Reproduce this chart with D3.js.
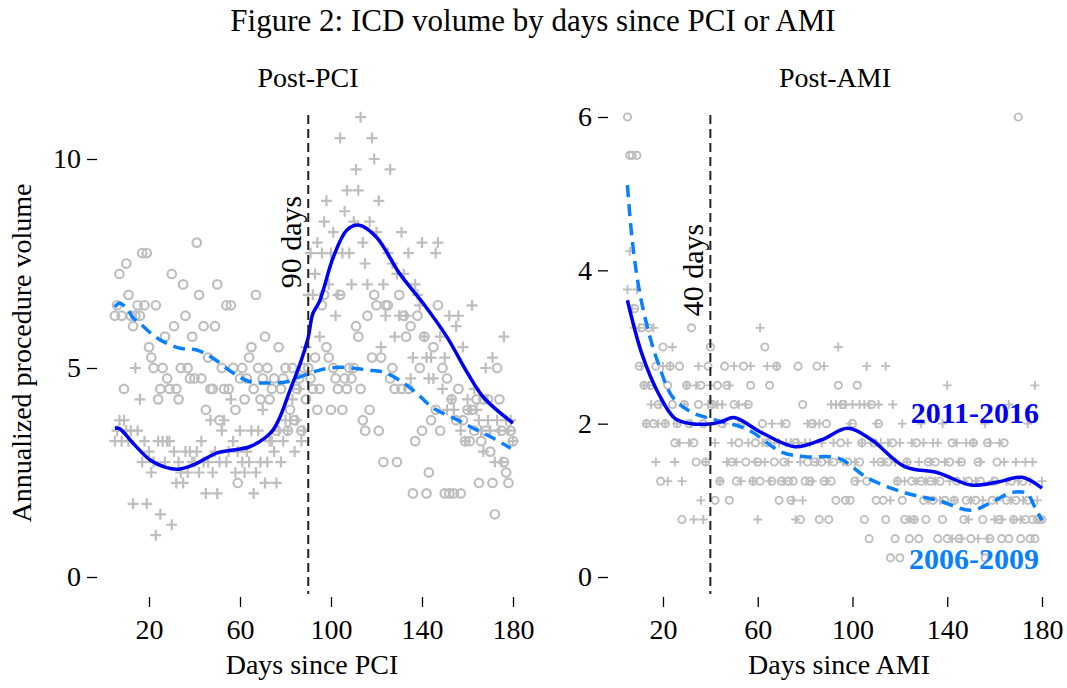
<!DOCTYPE html>
<html>
<head>
<meta charset="utf-8">
<script src="https://cdn.jsdelivr.net/npm/d3@7"></script>
<style>
  body { margin: 0; background: #fff; }
  text { font-family: "Liberation Serif", "Times New Roman", serif; fill: #000; }
</style>
</head>
<body>
<div id="chart"></div>
<script>
var width = 1067;
var height = 688;

// days observed (same in both panels)
var days = d3.range(5, 181);

// Post-PCI, 2006-2009 (circles)
var pciEarly = [
  6.25, 6.5, 7.25, 6.25, 4.5, 7.5, 6.75, 6.25, 6.0, 6.25,
  6.5, 6.25, 7.75, 6.5, 7.75, 5.5, 5.25, 5.0, 6.5, 4.25,
  4.5, 5.0, 5.75, 4.75, 4.5, 7.25, 6.0, 4.5, 4.25, 5.0,
  7.0, 6.25, 5.0, 4.75, 5.75, 4.75, 8.0, 6.75, 4.75, 6.0,
  4.0, 5.25, 4.5, 4.5, 6.0, 7.0, 3.75, 5.0, 4.5, 6.5,
  4.5, 6.5, 5.0, 4.0, 2.25, 4.75, 5.0, 4.25, 4.75, 5.25,
  5.5, 4.5, 6.75, 5.0, 4.25, 4.75, 5.75, 5.0, 4.25, 4.5,
  4.75, 3.5, 5.5, 4.5, 4.75, 5.0, 3.5, 4.0, 5.0, 3.75,
  4.5, 4.75, 3.5, 5.0, 4.25, 5.0, 4.75, 4.5, 5.25, 4.0,
  4.5, 6.5, 6.75, 5.5, 5.25, 4.0, 5.0, 4.75, 4.5, 6.75,
  4.0, 4.75, 4.5, 5.0, 4.75, 5.0, 6.0, 5.75, 4.5, 3.75,
  3.5, 6.25, 4.0, 5.25, 6.75, 6.5, 3.5, 5.25, 2.75, 6.5,
  6.5, 4.75, 5.0, 4.5, 2.75, 6.75, 4.5, 6.25, 5.75, 4.5,
  6.0, 2.0, 3.25, 6.25, 5.0, 3.5, 5.75, 2.0, 2.5, 3.75,
  5.5, 4.0, 6.5, 3.5, 5.0, 2.0, 4.75, 2.0, 4.25, 2.0,
  3.75, 4.5, 2.0, 3.75, 3.25, 4.0, 3.25, 4.0, 3.5, 4.25,
  2.25, 3.25, 4.25, 3.5, 4.25, 3.0, 2.25, 1.5, 5.0, 4.25,
  3.5, 2.75, 2.5, 2.25, 3.5, 3.25
];

// Post-PCI, 2011-2016 (pluses)
var pciLate = [
  3.25, 3.5, 3.75, 3.25, 3.75, 3.5, 3.25, 3.5, 1.75, 5.0,
  3.5, 4.25, 2.75, 3.25, 1.75, 3.0, 2.5, 2.75, 1.0, 3.25,
  1.5, 3.25, 2.75, 3.25, 3.25, 1.25, 3.0, 2.25, 2.75, 2.5,
  2.25, 3.0, 2.5, 3.0, 2.75, 2.75, 3.0, 2.5, 3.25, 2.75,
  2.0, 2.75, 3.75, 2.5, 3.0, 2.0, 2.75, 3.5, 3.75, 2.75,
  3.0, 4.25, 3.25, 2.5, 3.0, 3.5, 2.75, 2.5, 3.0, 2.75,
  3.5, 2.0, 2.5, 3.5, 2.75, 4.0, 2.25, 2.75, 3.25, 3.25,
  3.0, 2.25, 3.5, 2.75, 3.25, 3.75, 3.5, 3.75, 4.25, 3.0,
  3.75, 4.5, 3.25, 3.5, 5.5, 6.75, 7.75, 6.75, 7.25, 8.0,
  5.75, 7.75, 8.5, 9.0, 7.0, 7.75, 8.25, 6.25, 6.75, 10.5,
  7.75, 8.75, 9.25, 7.75, 7.0, 8.5, 9.75, 9.25, 11.0, 8.0,
  7.5, 7.0, 8.5, 10.5, 10.0, 8.25, 9.0, 5.5, 7.0, 6.25,
  7.75, 9.75, 7.5, 5.75, 7.25, 6.25, 8.25, 7.25, 6.25, 7.75,
  4.75, 5.25, 7.0, 6.75, 6.5, 8.0, 5.75, 5.25, 4.75, 5.25,
  4.75, 7.75, 8.0, 5.75, 4.5, 5.25, 4.0, 6.25, 4.25, 4.0,
  6.0, 6.25, 3.5, 5.5, 3.25, 4.25, 4.0, 6.5, 4.5, 4.0,
  3.75, 3.5, 3.0, 5.0, 3.75, 3.5, 5.25, 2.75, 3.75, 3.5,
  2.75, 5.75, 3.75, 3.5, 3.75, 3.25
];

// Post-AMI, 2006-2009 (circles)
var amiEarly = [
  6.0, 5.5, 5.5, 3.5, 5.5, 2.75, 3.25, 2.5, 2.0, 3.25,
  2.5, 2.0, 2.75, 2.25, 1.25, 3.0, 2.0, 2.5, 2.75, 2.25,
  1.75, 2.0, 2.75, 0.75, 2.25, 2.5, 2.0, 3.25, 1.75, 1.5,
  2.25, 2.5, 2.0, 1.5, 2.75, 3.0, 2.25, 1.0, 2.5, 1.25,
  2.0, 2.75, 2.5, 1.0, 1.5, 2.25, 1.25, 1.75, 2.0, 2.75,
  1.5, 2.25, 2.5, 1.25, 1.75, 1.5, 1.25, 2.0, 3.0, 1.75,
  2.5, 1.25, 1.5, 2.75, 1.0, 1.25, 1.5, 2.0, 1.25, 1.0,
  1.25, 1.75, 2.75, 0.75, 2.25, 1.25, 1.5, 1.25, 2.0, 1.5,
  2.75, 0.75, 1.5, 1.25, 2.0, 0.75, 1.25, 1.5, 1.0, 2.5,
  1.75, 2.25, 1.0, 1.5, 1.0, 2.0, 1.25, 2.5, 1.5, 1.75,
  0.75, 1.25, 0.5, 2.25, 1.75, 1.0, 2.0, 1.5, 1.0, 0.75,
  1.5, 0.25, 1.75, 0.5, 1.25, 0.25, 1.0, 0.75, 1.5, 0.5,
  1.25, 0.75, 1.75, 0.5, 1.25, 1.0, 0.75, 1.5, 1.25, 1.0,
  1.5, 0.5, 1.25, 0.75, 1.0, 0.5, 1.5, 1.75, 1.0, 1.25,
  0.5, 1.5, 0.75, 1.0, 1.25, 0.5, 1.75, 1.0, 1.5, 1.25,
  0.75, 0.25, 1.75, 0.5, 1.0, 1.25, 1.5, 0.75, 0.5, 1.75,
  1.0, 0.5, 1.25, 0.75, 1.0, 6.0, 0.5, 1.25, 0.75, 1.0,
  0.5, 0.75, 0.5, 0.75, 0.75, 0.75
];

// Post-AMI, 2011-2016 (pluses)
var amiLate = [
  3.75, 4.25, 3.5, 3.25, 3.75, 3.25, 2.75, 2.5, 2.0, 2.5,
  2.25, 3.25, 1.5, 2.0, 2.25, 2.75, 2.0, 1.25, 2.75, 3.0,
  1.5, 2.0, 1.75, 1.25, 2.25, 2.5, 1.75, 2.0, 0.75, 2.5,
  2.75, 1.0, 0.75, 1.5, 2.25, 2.5, 2.25, 1.75, 2.25, 1.25,
  2.25, 2.0, 1.5, 2.5, 1.75, 2.75, 1.5, 2.25, 1.25, 2.0,
  2.25, 1.75, 2.75, 1.25, 1.5, 0.75, 3.25, 1.75, 1.5, 2.75,
  1.25, 2.0, 1.75, 2.75, 1.75, 2.0, 1.25, 1.75, 1.5, 1.75,
  1.0, 0.75, 1.75, 1.5, 1.0, 1.75, 2.0, 1.75, 1.25, 2.0,
  1.5, 2.0, 1.75, 2.75, 1.25, 1.5, 2.25, 1.75, 2.25, 3.0,
  2.25, 1.5, 2.25, 1.75, 2.0, 2.25, 1.5, 1.25, 2.25, 1.75,
  2.25, 2.75, 2.25, 1.75, 1.5, 2.0, 2.25, 1.75, 1.5, 2.75,
  1.75, 1.0, 2.25, 1.5, 1.25, 1.75, 2.0, 1.25, 1.5, 0.75,
  1.75, 0.75, 1.25, 1.5, 2.0, 1.75, 1.25, 1.0, 1.5, 1.75,
  1.25, 1.75, 1.0, 2.0, 1.5, 2.5, 1.25, 0.5, 1.0, 1.75,
  1.5, 0.5, 1.25, 1.75, 0.75, 1.0, 1.75, 1.25, 0.5, 1.5,
  1.0, 2.0, 0.5, 1.75, 1.25, 0.75, 1.0, 1.75, 0.75, 1.5,
  1.25, 2.25, 1.0, 0.75, 1.5, 1.25, 0.75, 1.0, 1.5, 2.0,
  1.25, 1.5, 2.5, 1.0, 0.75, 1.25
];

// smoothed trend lines (day, value)
var pciLateFitDays = [5, 7, 13, 20.5, 27, 33, 39.5, 50, 57, 64, 71, 74.6, 77.6, 82, 86.4, 90, 92, 95, 101, 107, 112, 120, 130, 140.5, 151, 160, 167, 180];
var pciLateFit = [3.56, 3.55, 3.2, 2.8, 2.63, 2.58, 2.68, 2.97, 3.04, 3.11, 3.33, 3.52, 3.83, 4.47, 5.1, 5.74, 6.3, 6.6, 7.65, 8.3, 8.42, 8.13, 7.27, 6.55, 5.74, 4.88, 4.3, 3.68];
var pciEarlyFitDays = [5, 7, 10, 13, 16, 23.5, 33, 41, 48, 57, 64.4, 72, 80.5, 86, 95, 104, 116, 123, 130, 137.6, 145, 154, 162.5, 171, 179];
var pciEarlyFit = [6.46, 6.55, 6.44, 6.2, 6.07, 5.72, 5.48, 5.43, 5.24, 4.88, 4.67, 4.64, 4.67, 4.78, 4.95, 5.02, 4.95, 4.9, 4.71, 4.4, 4.04, 3.8, 3.56, 3.33, 3.08];
var amiLateFitDays = [5, 11, 18, 25, 32, 40.7, 45, 50, 61.8, 75.7, 87, 98, 108, 122, 136, 150, 161.5, 171.5, 180];
var amiLateFit = [3.61, 2.92, 2.4, 2.07, 2.0, 2.0, 2.03, 2.08, 1.88, 1.7, 1.79, 1.94, 1.79, 1.44, 1.36, 1.2, 1.24, 1.3, 1.16];
var amiEarlyFitDays = [5, 7, 10, 14.5, 18, 24, 32, 42, 56, 70, 80, 94, 106.5, 122, 136, 150, 159, 167, 173.5, 177, 180];
var amiEarlyFit = [5.11, 4.4, 3.74, 3.13, 2.79, 2.35, 2.15, 2.05, 1.92, 1.63, 1.57, 1.55, 1.29, 1.1, 1.0, 0.87, 0.98, 1.1, 1.09, 0.91, 0.74];

var xTicks = [20, 60, 100, 140, 180];
var pciYTicks = [0, 5, 10];
var amiYTicks = [0, 2, 4, 6];

var lateColor = "#0000f0";
var earlyColor = "#0a80ff";
var pointColor = "#bebebe";

var svg = d3.select("#chart")
    .append("svg")
    .attr("width", width)
    .attr("height", height);

svg.append("text")
    .attr("x", 533)
    .attr("y", 31)
    .attr("text-anchor", "middle")
    .style("font-size", "31px")
    .text("Figure 2: ICD volume by days since PCI or AMI");

svg.append("text")
    .attr("transform", "translate(31,353) rotate(-90)")
    .attr("text-anchor", "middle")
    .style("font-size", "28px")
    .text("Annualized procedure volume");

/*
    Draw one panel: points, trend lines, cut-off line, axes
*/
function drawPanel(p) {
    var x = d3.scaleLinear().domain([0, 180]).range(p.xRange);
    var y = d3.scaleLinear().domain(p.yDomain).range([577, p.yTop]);
    var g = svg.append("g");

    var r = p.r, h = p.plus;

    // 2006-2009 circles
    g.selectAll(".circ")
        .data(days.map(function (d, i) { return [d, p.early[i]]; }))
        .enter().append("circle")
        .attr("cx", function (d) { return x(d[0]); })
        .attr("cy", function (d) { return y(d[1]); })
        .attr("r", r)
        .attr("fill", "none")
        .attr("stroke", pointColor)
        .attr("stroke-width", p.sw);

    // 2011-2016 pluses
    g.selectAll(".plus")
        .data(days.map(function (d, i) { return [d, p.late[i]]; }))
        .enter().append("path")
        .attr("d", function (d) {
            var cx = x(d[0]), cy = y(d[1]);
            return "M" + (cx - h) + "," + cy + "H" + (cx + h) +
                   "M" + cx + "," + (cy - h) + "V" + (cy + h);
        })
        .attr("stroke", pointColor)
        .attr("stroke-width", p.sw)
        .attr("fill", "none");

    var line = d3.line()
        .x(function (d) { return x(d[0]); })
        .y(function (d) { return y(d[1]); })
        .curve(d3.curveCatmullRom.alpha(0.5));

    g.append("path")
        .attr("d", line(p.earlyFitDays.map(function (d, i) { return [d, p.earlyFit[i]]; })))
        .attr("fill", "none")
        .attr("stroke", earlyColor)
        .attr("stroke-width", 3.5)
        .attr("stroke-dasharray", "12,7");

    g.append("path")
        .attr("d", line(p.lateFitDays.map(function (d, i) { return [d, p.lateFit[i]]; })))
        .attr("fill", "none")
        .attr("stroke", lateColor)
        .attr("stroke-width", 3.5);

    // cut-off line
    g.append("line")
        .attr("x1", x(p.cut)).attr("x2", x(p.cut))
        .attr("y1", 115).attr("y2", 594)
        .attr("stroke", "#222")
        .attr("stroke-width", 2)
        .attr("stroke-dasharray", "9,5");

    g.append("text")
        .attr("transform", "translate(" + (x(p.cut) - 7) + "," + p.cutY + ") rotate(-90)")
        .attr("text-anchor", "middle")
        .style("font-size", "30px")
        .text(p.cut + " days");

    // axes
    var yAxis = g.append("g")
        .attr("transform", "translate(" + p.yAxisX + ",0)")
        .call(d3.axisLeft(y).tickValues(p.yTicks).tickFormat(d3.format("d"))
            .tickSize(10).tickPadding(6));
    var xAxis = g.append("g")
        .attr("transform", "translate(0,597)")
        .call(d3.axisBottom(x).tickValues(xTicks).tickSize(10).tickPadding(12));
    [yAxis, xAxis].forEach(function (a) {
        a.select(".domain").remove();
        a.selectAll("line").attr("stroke", "#000").attr("stroke-width", 1.3);
        a.selectAll("text")
            .style("font-family", "'Liberation Serif', serif")
            .style("font-size", "28px")
            .attr("fill", "#000");
    });

    g.append("text")
        .attr("x", p.titleX)
        .attr("y", 87)
        .attr("text-anchor", "middle")
        .style("font-size", "28px")
        .text(p.title);

    g.append("text")
        .attr("x", p.titleX + 4)
        .attr("y", 674)
        .attr("text-anchor", "middle")
        .style("font-size", "28px")
        .text(p.xLabel);

    return g;
}

drawPanel({
    xRange: [103.5, 513], yDomain: [0, 10], yTop: 159,
    early: pciEarly, late: pciLate,
    earlyFitDays: pciEarlyFitDays, earlyFit: pciEarlyFit,
    lateFitDays: pciLateFitDays, lateFit: pciLateFit,
    yTicks: pciYTicks, yAxisX: 97, cut: 90, cutY: 242,
    r: 4.3, plus: 5.5, sw: 2.2,
    title: "Post-PCI", titleX: 308, xLabel: "Days since PCI"
});

var ami = drawPanel({
    xRange: [615.6, 1042], yDomain: [0, 6], yTop: 117,
    early: amiEarly, late: amiLate,
    earlyFitDays: amiEarlyFitDays, earlyFit: amiEarlyFit,
    lateFitDays: amiLateFitDays, lateFit: amiLateFit,
    yTicks: amiYTicks, yAxisX: 608, cut: 40, cutY: 270,
    r: 3.6, plus: 4.5, sw: 1.9,
    title: "Post-AMI", titleX: 835, xLabel: "Days since AMI"
});

ami.append("text")
    .attr("x", 1039).attr("y", 423)
    .attr("text-anchor", "end")
    .style("font-size", "30px").style("font-weight", "bold")
    .style("fill", lateColor)
    .text("2011-2016");

ami.append("text")
    .attr("x", 1039).attr("y", 569)
    .attr("text-anchor", "end")
    .style("font-size", "30px").style("font-weight", "bold")
    .style("fill", earlyColor)
    .text("2006-2009");
</script>
</body>
</html>
